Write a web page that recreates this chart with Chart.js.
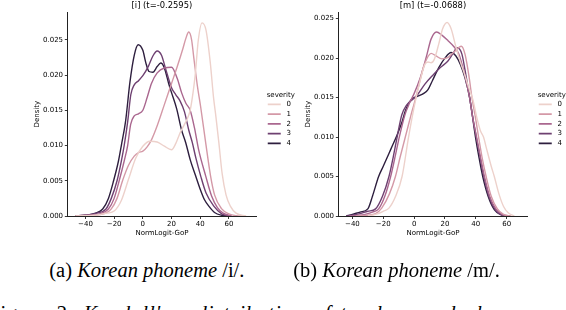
<!DOCTYPE html>
<html><head><meta charset="utf-8">
<script src="https://cdn.jsdelivr.net/npm/chart.js@4.4.1/dist/chart.umd.min.js"></script>
<style>
html,body{margin:0;padding:0;background:#fff;width:566px;height:310px;overflow:hidden;position:relative}
.cw{position:absolute;top:0;width:295px;height:240px}
canvas{display:block}
.cap{position:absolute;font-family:"Liberation Serif","Times New Roman",serif;font-size:20.5px;line-height:1;white-space:nowrap;color:#000}
</style></head><body>
<div class="cw" style="left:0px"><canvas id="c1" width="295" height="240"></canvas></div>
<div class="cw" style="left:271px"><canvas id="c2" width="295" height="240"></canvas></div>
<div class="cap" style="left:49.3px;top:260.3px">(a) <i>Korean phoneme</i> /i/.</div>
<div class="cap" style="left:293.3px;top:260.3px">(b) <i>Korean phoneme</i> /m/.</div>
<div class="cap" style="left:-12px;top:303px;letter-spacing:1px;word-spacing:3px">Figure 2: <i>Kendall's τ distribution of t-values and phoneme and</i></div>
<script>
// ---- data ----
const severityLabels = ['0', '1', '2', '3', '4'];
const severityColors = ['#edd1cb', '#d499a7', '#aa678f', '#6e4071', '#2d1e3e'];
const xTickValues = [-40, -20, 0, 20, 40, 60];
const yTickValues = [0, 0.005, 0.01, 0.015, 0.02, 0.025];

// panel (a) [i]
const I_X0 = [-47,-40,-30,-25,-20,-15,-10,-5,0,5,10,15,20,23,26,29,31,33,35,36.5,38.7,41.3,44,47,49.3,51,53,55.3,58,61,65,72];
const I_Y0 = [0,0.00003,0.0002,0.0004,0.0007,0.0022,0.0052,0.0082,0.0099,0.0106,0.0105,0.0099,0.0094,0.0103,0.0118,0.0130,0.0138,0.0150,0.0175,0.0200,0.0250,0.0274,0.0264,0.0218,0.0168,0.0140,0.0104,0.0060,0.0030,0.0014,0.0004,0];
const I_X1 = [-47,-40,-30,-25,-22,-18,-14,-10,-6,-3,0,3,6,10,15,20,24,28,30,32,34,35.5,38,40.3,43.8,47.2,50,55,60,65,70];
const I_Y1 = [0,0.00005,0.0002,0.0005,0.001,0.0025,0.0051,0.0072,0.0085,0.0090,0.0092,0.0098,0.0108,0.0128,0.0158,0.0188,0.0212,0.0238,0.0252,0.0261,0.0250,0.0225,0.0185,0.0155,0.0104,0.0057,0.0030,0.0010,0.0003,0.00005,0];
const I_X2 = [-47,-40,-30,-24,-20,-16.5,-13,-10.6,-8.5,-6,-3,0,3,6,10,15,20,24,27,30,33,36,39,43.8,48,52,56,62];
const I_Y2 = [0,0.0001,0.0003,0.001,0.0025,0.005,0.0078,0.0100,0.0130,0.0142,0.0145,0.0150,0.0168,0.0188,0.0203,0.0210,0.0211,0.0195,0.0175,0.0160,0.0150,0.0125,0.0093,0.0057,0.0028,0.0012,0.0004,0];
const I_X3 = [-47,-40,-32,-25.7,-22,-18,-15,-13,-10.5,-8.4,-6,-3,0,4,7,10,13,16,20,23,26,29,32,34.5,37,40.3,44,49.5,55,60];
const I_Y3 = [0,0.0001,0.0004,0.001,0.0025,0.005,0.0078,0.0100,0.0135,0.0172,0.0186,0.0192,0.0199,0.0213,0.0227,0.0234,0.0228,0.0208,0.0182,0.0172,0.0163,0.0148,0.0122,0.0104,0.0082,0.0057,0.0033,0.0014,0.0003,0];
const I_X4 = [-47,-40,-33,-28,-24,-20.4,-17,-15,-12,-9,-6,-3.3,0,2,4.3,7,10,12.5,15,18,20,23.6,27,29.9,33,36.8,40,43,46,50,55,60];
const I_Y4 = [0,0.0001,0.0004,0.001,0.0025,0.005,0.0078,0.0100,0.0135,0.0190,0.0228,0.0243,0.0235,0.0218,0.0205,0.0204,0.0212,0.0217,0.0210,0.0188,0.0175,0.0152,0.0122,0.0104,0.0080,0.0057,0.0038,0.0023,0.0014,0.0005,0.0001,0];

// panel (b) [m]
const M_X0 = [-30,-25,-20,-16.3,-12,-7.8,-3.6,0,4,7,9,11,13,16,18.5,21.4,24,27,30,33,35.5,38,41,43,45,47,50,52,55,58,61,65];
const M_Y0 = [0,0.0002,0.0006,0.001,0.0025,0.005,0.010,0.0138,0.0172,0.0192,0.0195,0.0194,0.0198,0.0218,0.0237,0.0245,0.0237,0.0215,0.0195,0.0178,0.0162,0.0148,0.0122,0.0108,0.0100,0.0085,0.0063,0.0050,0.0028,0.0012,0.0004,0];
const M_X1 = [-38,-30,-25,-21,-16,-12.1,-9,-5.7,-2,0,3,6,9,11,14,18,22,26,30.6,33,35.5,37.5,40,41.8,44,46.7,50,54,58,63];
const M_Y1 = [0,0.0001,0.0003,0.001,0.0028,0.005,0.0075,0.0100,0.0128,0.0142,0.0165,0.0188,0.0202,0.0206,0.0203,0.0199,0.0201,0.0208,0.0215,0.0205,0.0178,0.0150,0.0122,0.0100,0.0075,0.0050,0.0025,0.0009,0.0002,0];
const M_X2 = [-42,-35,-30,-27,-23,-19,-15.2,-12,-9.6,-6,-3,0,4,8,11,14.5,18,22,26,29,32,34,36,38,40.5,43,45.6,49,53,57,62];
const M_Y2 = [0,0.0001,0.0003,0.0005,0.0009,0.0025,0.005,0.0078,0.0100,0.0128,0.0143,0.0155,0.0175,0.0202,0.0224,0.0233,0.0229,0.0222,0.0214,0.0205,0.0185,0.0168,0.0150,0.0125,0.0100,0.0075,0.0050,0.0025,0.0009,0.0002,0];
const M_X3 = [-44,-40,-35,-30,-25,-20.5,-16.3,-13.5,-11,-8,-5,-2,2,7,12,17,21.8,25,28,31,33,36,38,40.3,43,45.2,49,53,57,62];
const M_Y3 = [0,0.0001,0.0003,0.0006,0.0009,0.0025,0.005,0.0075,0.0100,0.0128,0.0140,0.0146,0.0153,0.0167,0.0178,0.0188,0.0196,0.0205,0.0213,0.0205,0.0185,0.0150,0.0125,0.0100,0.0072,0.0050,0.0022,0.0007,0.0001,0];
const M_X4 = [-44,-40,-35,-30,-27,-23,-20,-15,-11.6,-8,-5.7,-2,2.8,6,9,12,16,20,24,27,30,33,36,39.8,42,44.5,48,52,56,60];
const M_Y4 = [0,0.0002,0.0005,0.0009,0.0025,0.0050,0.0063,0.0085,0.0100,0.0118,0.0133,0.0147,0.0152,0.0155,0.0160,0.0172,0.0188,0.0200,0.0207,0.0203,0.0192,0.0175,0.0150,0.0100,0.0075,0.0050,0.0025,0.0008,0.0002,0];

// ---- chart builder ----
const FONT = 'DejaVu Sans';
const shiftLegend = {
  id: 'shiftLegend',
  afterLayout(chart) { const lg = chart.legend; if (lg) { lg.left += 9; lg.right += 9; } }
};

function makeChart(id, title, xs, ys, xmin, xmax, ymax) {
  const datasets = xs.map((xa, k) => ({
    label: ' ' + severityLabels[k],
    data: xa.map((x, i) => ({x: x, y: ys[k][i]})),
    borderColor: severityColors[k],
    backgroundColor: severityColors[k],
    borderWidth: 1.4,
    pointRadius: 0,
    fill: false,
    cubicInterpolationMode: 'monotone'
  }));
  const axisCol = '#222';
  return new Chart(document.getElementById(id), {
    type: 'line',
    data: {datasets},
    options: {
      responsive: false, animation: false, devicePixelRatio: 1,
      layout: {padding: {left: 32.8, right: 7.5, top: 0, bottom: 2.2}},
      plugins: {
        title: {display: true, text: title, fullSize: false, color: '#000',
          font: {family: FONT, size: 8.4, weight: 'normal'}, padding: {top: 1, bottom: 1.2}},
        legend: {position: 'right', align: 'center', maxWidth: 31.5,
          title: {display: true, text: 'severity', color: '#000',
            font: {family: FONT, size: 7}, padding: {top: 3.25, bottom: -1.85}},
          labels: {usePointStyle: true, pointStyle: 'line', pointStyleWidth: 13, boxHeight: 7,
            color: '#000', font: {family: FONT, size: 7}, padding: 2.75,
            generateLabels: chart => Chart.defaults.plugins.legend.labels.generateLabels(chart)
              .map(item => Object.assign(item, {lineWidth: 1.8}))}},
        tooltip: {enabled: false}
      },
      scales: {
        x: {type: 'linear', min: xmin, max: xmax,
          afterBuildTicks: s => { s.ticks = xTickValues.map(v => ({value: v})); },
          ticks: {color: '#000', font: {family: FONT, size: 7}, padding: 1, maxRotation: 0,
            callback: v => v < 0 ? '\u2212' + Math.abs(v) : String(v)},
          grid: {drawOnChartArea: false, drawTicks: true, tickLength: 3, tickColor: axisCol, tickWidth: 0.9},
          border: {display: true, color: axisCol, width: 1},
          title: {display: true, text: 'NormLogit-GoP', color: '#000',
            font: {family: FONT, size: 7}, padding: {top: 0, bottom: 0}}},
        y: {type: 'linear', min: 0, max: ymax,
          afterBuildTicks: s => { s.ticks = yTickValues.map(v => ({value: v})); },
          ticks: {color: '#000', font: {family: FONT, size: 7}, padding: 1.8,
            callback: v => v.toFixed(3)},
          grid: {drawOnChartArea: false, drawTicks: true, tickLength: 3, tickColor: axisCol, tickWidth: 0.9},
          border: {display: true, color: axisCol, width: 1},
          title: {display: true, text: 'Density', color: '#000',
            font: {family: FONT, size: 7}, padding: {top: 0, bottom: 0}}}
      }
    },
    plugins: [shiftLegend]
  });
}

makeChart('c1', '[i] (t=-0.2595)', [I_X0, I_X1, I_X2, I_X3, I_X4], [I_Y0, I_Y1, I_Y2, I_Y3, I_Y4], -52.3, 78.9, 0.0289);
makeChart('c2', '[m] (t=-0.0688)', [M_X0, M_X1, M_X2, M_X3, M_X4], [M_Y0, M_Y1, M_Y2, M_Y3, M_Y4], -48.8, 73.2, 0.0258);
</script>
</body></html>
